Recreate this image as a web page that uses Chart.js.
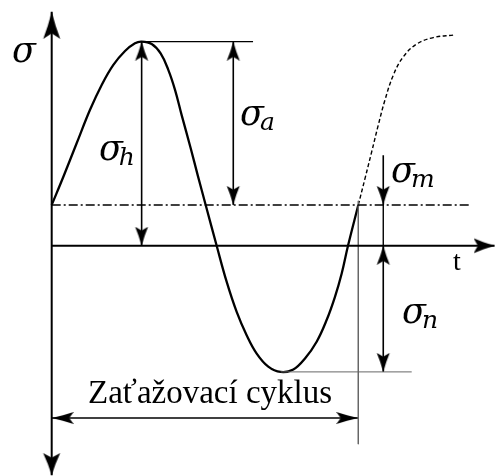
<!DOCTYPE html>
<html>
<head>
<meta charset="utf-8">
<script src="https://cdn.jsdelivr.net/npm/chart.js@4.4.0/dist/chart.umd.min.js"></script>
<style>
  html, body { margin: 0; padding: 0; background: #fff; }
  #box { width: 495px; height: 476px; position: relative; }
</style>
</head>
<body>
<div id="box"><canvas id="cycle"></canvas></div>
<script>
// one load cycle: t in degrees of phase, sigma in stress units
const cycleT = [0, 13.7, 29.3, 45.0, 58.7, 72.4, 86.1, 97.8, 105.6, 117.4, 127.9, 136.9, 144.8, 152.6, 163.2, 171.4, 180.8, 193.7, 205.4, 217.2, 228.9, 240.7, 254.3, 268.8, 283.7, 297.4, 311.1, 322.8, 332.6, 340.5, 347.9, 360];
const cycleS = [1.0, 1.69, 2.51, 3.33, 3.94, 4.43, 4.77, 4.96, 5.0, 4.94, 4.71, 4.31, 3.82, 3.20, 2.39, 1.73, 1.0, 0.0, -0.88, -1.62, -2.19, -2.64, -2.96, -3.09, -3.03, -2.76, -2.35, -1.82, -1.25, -0.68, 0.0, 1.0];

// beginning of the next cycle (dashed)
const nextT = [360, 367.9, 375.7, 383.5, 391.3, 401.1, 412.9, 428.5, 448.1, 471.6];
const nextS = [1.0, 1.65, 2.30, 2.96, 3.57, 4.18, 4.63, 4.94, 5.10, 5.16];

// stress levels
const sigmaM = 1.0;    // mean
const sigmaH = 5.0;    // upper
const sigmaN = -3.09;  // lower
const cycleEnd = 360;

// where the dimension arrows stand (t)
const tH = 105.6, tA = 213.2, tM = 389.3;

// visible window
const tMin = -60.7, tMax = 520.5, sMin = -5.64, sMax = 6.02;

function pts(ts, ss) {
    return ts.map((t, i) => ({ x: t, y: ss[i] }));
}

// arrowhead drawn pointing up, tip at the canvas centre
function makeArrow(len, wid) {
    var c = document.createElement('canvas');
    c.width = Math.ceil(Math.max(len, wid) * 2);
    c.height = c.width;
    var g = c.getContext('2d');
    var cx = c.width / 2, cy = c.height / 2;
    g.fillStyle = '#000';
    g.beginPath();
    g.moveTo(cx, cy);
    g.quadraticCurveTo(cx + wid * 0.2, cy + len * 0.5, cx + wid / 2, cy + len);
    g.lineTo(cx, cy + len * 0.8);
    g.lineTo(cx - wid / 2, cy + len);
    g.quadraticCurveTo(cx - wid * 0.2, cy + len * 0.5, cx, cy);
    g.fill();
    return c;
}

const bigTop = makeArrow(27, 17);
const bigBottom = makeArrow(22, 17);
const bigRight = makeArrow(21, 15);
const small = makeArrow(19, 13);
const cycArrow = makeArrow(22, 12);

function seg(data, opts) {
    return Object.assign({
        data: data,
        showLine: true,
        borderColor: '#000',
        borderWidth: 1.6,
        pointRadius: 0,
        clip: false
    }, opts);
}

// arrowheads: heads[i] = [canvas, rotation] or null
function arrowSeg(data, heads, opts) {
    return seg(data, Object.assign({
        pointRadius: heads.map(h => h ? 6 : 0),
        pointStyle: heads.map(h => h ? h[0] : 'circle'),
        pointRotation: heads.map(h => h ? h[1] : 0)
    }, opts));
}

const datasets = [
    // axes
    arrowSeg([{ x: 0, y: -5.62 }, { x: 0, y: 5.73 }], [[bigBottom, 180], [bigTop, 0]], { borderWidth: 2 }),
    arrowSeg([{ x: 0, y: 0 }, { x: 520, y: 0 }], [null, [bigRight, 90]], { borderWidth: 2 }),
    // mean line
    seg([{ x: 0, y: sigmaM }, { x: 491, y: sigmaM }], { borderWidth: 1.4, borderDash: [9, 3, 2, 3] }),
    // helper lines
    seg([{ x: tH, y: sigmaH }, { x: 236.4, y: sigmaH }], { borderWidth: 1.3 }),
    seg([{ x: 268.8, y: sigmaN }, { x: 422.7, y: sigmaN }], { borderWidth: 1, borderColor: '#666' }),
    seg([{ x: cycleEnd, y: sigmaM + 0.1 }, { x: cycleEnd, y: -4.86 }], { borderWidth: 1, borderColor: '#666' }),
    seg([{ x: tM, y: sigmaM }, { x: tM, y: 0 }], { borderWidth: 1.4 }),
    // dimension arrows
    arrowSeg([{ x: tH, y: 0 }, { x: tH, y: sigmaH }], [[small, 180], [small, 0]]),
    arrowSeg([{ x: tA, y: sigmaM }, { x: tA, y: sigmaH }], [[small, 180], [small, 0]]),
    arrowSeg([{ x: tM, y: 2.22 }, { x: tM, y: sigmaM }], [null, [small, 180]]),
    arrowSeg([{ x: tM, y: 0 }, { x: tM, y: sigmaN }], [[small, 0], [small, 180]]),
    arrowSeg([{ x: 0, y: -4.22 }, { x: cycleEnd, y: -4.22 }], [[cycArrow, 270], [cycArrow, 90]], { borderWidth: 1.4 }),
    // the stress curve
    seg(pts(cycleT, cycleS), { borderWidth: 2.3, tension: 0.4 }),
    seg(pts(nextT, nextS), { borderWidth: 1.4, borderDash: [4, 2.5], tension: 0.4 })
];

// text labels, anchored in data units (left, baseline)
const symbols = [
    { t: -46.6, s: 4.50, sub: '' },
    { t: 55.5, s: 2.10, sub: 'h' },
    { t: 221.1, s: 2.96, sub: 'a' },
    { t: 398.4, s: 1.56, sub: 'm' },
    { t: 411.3, s: -1.89, sub: 'n' }
];

const labelPlugin = {
    id: 'labels',
    afterDatasetsDraw(chart) {
        var ctx = chart.ctx, xs = chart.scales.x, ys = chart.scales.y;
        ctx.save();
        ctx.fillStyle = '#000';
        ctx.textBaseline = 'alphabetic';
        ctx.textAlign = 'left';
        symbols.forEach(function (sym) {
            var px = xs.getPixelForValue(sym.t), py = ys.getPixelForValue(sym.s);
            ctx.font = 'italic 35px "DejaVu Serif"';
            ctx.fillText('σ', px, py);
            if (sym.sub) {
                var w = ctx.measureText('σ').width;
                ctx.font = 'italic 25px "DejaVu Serif"';
                ctx.fillText(sym.sub, px + w - 4, py + 5);
            }
        });
        ctx.font = '28px "Liberation Serif"';
        ctx.fillText('t', xs.getPixelForValue(471.1), ys.getPixelForValue(-0.60));
        ctx.textAlign = 'center';
        ctx.font = '33px "Liberation Serif"';
        ctx.fillText('Zaťažovací cyklus', xs.getPixelForValue(185.9), ys.getPixelForValue(-3.86));
        ctx.restore();
    }
};

new Chart(document.getElementById('cycle'), {
    type: 'scatter',
    data: { datasets: datasets },
    options: {
        responsive: true,
        maintainAspectRatio: false,
        animation: false,
        events: [],
        layout: { padding: 0, autoPadding: false },
        plugins: {
            legend: { display: false },
            tooltip: { enabled: false }
        },
        scales: {
            x: { type: 'linear', min: tMin, max: tMax, display: false },
            y: { type: 'linear', min: sMin, max: sMax, display: false }
        }
    },
    plugins: [labelPlugin]
});
</script>
</body>
</html>
